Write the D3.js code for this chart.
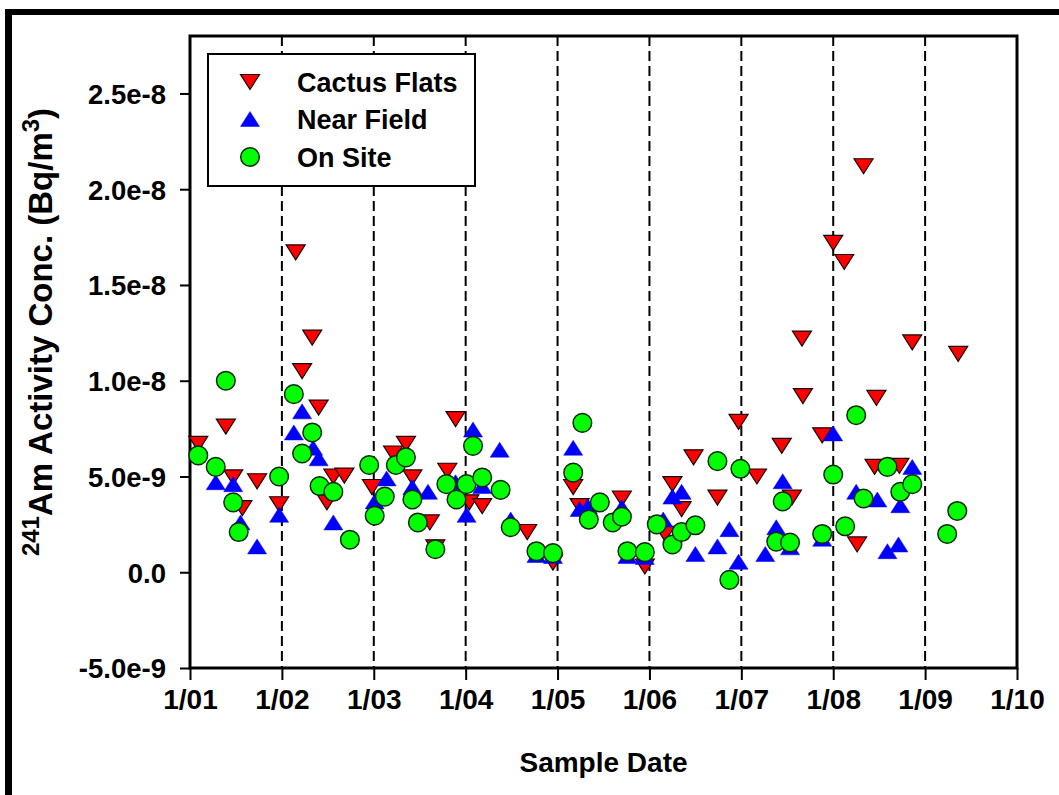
<!DOCTYPE html>
<html>
<head>
<meta charset="utf-8">
<script src="https://cdn.jsdelivr.net/npm/d3@7/dist/d3.min.js"></script>
<style>
  html, body { margin: 0; padding: 0; background: #fff; }
  svg { display: block; }
  text { font-family: "Liberation Sans", Arial, sans-serif; font-weight: bold; fill: #000; }
</style>
</head>
<body>
<svg id="chart" width="1059" height="795"></svg>
<script>
// Sample dates as decimal years, concentrations in Bq/m3
const cactusYear = [2001.09, 2001.39, 2001.47, 2001.57, 2001.73, 2001.97, 2002.15, 2002.22, 2002.33, 2002.40,
  2002.49, 2002.56, 2002.68, 2002.98, 2003.21, 2003.35, 2003.42, 2003.61, 2003.67, 2003.80,
  2003.89, 2004.04, 2004.18, 2004.67, 2004.95, 2005.17, 2005.24, 2005.70, 2005.95, 2006.17,
  2006.25, 2006.35, 2006.48, 2006.74, 2006.97, 2007.17, 2007.44, 2007.55, 2007.66, 2007.67,
  2007.88, 2008.00, 2008.12, 2008.26, 2008.33, 2008.45, 2008.47, 2008.72, 2008.86, 2009.36];
const cactusValue = [6.7e-9, 7.6e-9, 4.95e-9, 3.35e-9, 4.75e-9, 3.55e-9, 1.67e-8, 1.05e-8, 1.225e-8, 8.6e-9,
  3.65e-9, 5.0e-9, 5.05e-9, 4.45e-9, 6.2e-9, 6.7e-9, 4.95e-9, 2.6e-9, 1.3e-9, 5.3e-9,
  8.0e-9, 3.65e-9, 3.45e-9, 2.1e-9, 0.5e-9, 4.45e-9, 3.45e-9, 3.85e-9, 0.3e-9, 2.0e-9,
  4.6e-9, 3.3e-9, 6.0e-9, 3.9e-9, 7.85e-9, 5.0e-9, 6.6e-9, 3.9e-9, 1.22e-8, 9.2e-9,
  7.15e-9, 1.72e-8, 1.62e-8, 1.45e-9, 2.12e-8, 5.5e-9, 9.1e-9, 5.55e-9, 1.2e-8, 1.14e-8];

const nearYear = [2001.28, 2001.47, 2001.55, 2001.73, 2001.97, 2002.13, 2002.22, 2002.34, 2002.40, 2002.56,
  2003.01, 2003.14, 2003.42, 2003.59, 2003.89, 2004.01, 2004.08, 2004.18, 2004.37, 2004.49,
  2004.77, 2004.95, 2005.17, 2005.24, 2005.33, 2005.70, 2005.76, 2005.95, 2006.15, 2006.25,
  2006.35, 2006.50, 2006.74, 2006.87, 2006.97, 2007.26, 2007.38, 2007.45, 2007.53, 2007.88,
  2008.00, 2008.25, 2008.48, 2008.59, 2008.71, 2008.73, 2008.86];
const nearValue = [4.7e-9, 4.6e-9, 2.6e-9, 1.35e-9, 3.0e-9, 7.3e-9, 8.4e-9, 6.5e-9, 5.95e-9, 2.6e-9,
  3.7e-9, 4.9e-9, 4.45e-9, 4.2e-9, 4.7e-9, 3.0e-9, 7.45e-9, 4.5e-9, 6.4e-9, 2.75e-9,
  0.9e-9, 0.85e-9, 6.5e-9, 3.3e-9, 3.45e-9, 3.4e-9, 0.85e-9, 0.8e-9, 2.75e-9, 3.95e-9,
  4.2e-9, 0.95e-9, 1.35e-9, 2.25e-9, 0.55e-9, 0.95e-9, 2.35e-9, 4.75e-9, 1.3e-9, 1.75e-9,
  7.25e-9, 4.2e-9, 3.8e-9, 1.1e-9, 1.45e-9, 3.5e-9, 5.5e-9];

const siteYear = [2001.09, 2001.28, 2001.39, 2001.47, 2001.53, 2001.97, 2002.13, 2002.22, 2002.33, 2002.41,
  2002.56, 2002.74, 2002.95, 2003.01, 2003.12, 2003.24, 2003.35, 2003.42, 2003.48, 2003.67,
  2003.79, 2003.90, 2004.01, 2004.08, 2004.18, 2004.38, 2004.49, 2004.77, 2004.95, 2005.17,
  2005.27, 2005.34, 2005.46, 2005.60, 2005.70, 2005.76, 2005.95, 2006.08, 2006.25, 2006.35,
  2006.50, 2006.74, 2006.87, 2006.99, 2007.38, 2007.45, 2007.53, 2007.88, 2008.00, 2008.13,
  2008.25, 2008.33, 2008.59, 2008.73, 2008.86, 2009.24, 2009.35];
const siteValue = [6.1e-9, 5.5e-9, 1.0e-8, 3.65e-9, 2.1e-9, 5.0e-9, 9.3e-9, 6.2e-9, 7.3e-9, 4.5e-9,
  4.2e-9, 1.7e-9, 5.6e-9, 2.95e-9, 3.95e-9, 5.6e-9, 6.0e-9, 3.8e-9, 2.6e-9, 1.2e-9,
  4.6e-9, 3.8e-9, 4.6e-9, 6.6e-9, 4.95e-9, 4.3e-9, 2.35e-9, 1.1e-9, 1.0e-9, 5.2e-9,
  7.8e-9, 2.75e-9, 3.65e-9, 2.6e-9, 2.9e-9, 1.1e-9, 1.05e-9, 2.5e-9, 1.45e-9, 2.1e-9,
  2.45e-9, 5.8e-9, -0.4e-9, 5.4e-9, 1.6e-9, 3.7e-9, 1.55e-9, 2.0e-9, 5.1e-9, 2.4e-9,
  8.2e-9, 3.85e-9, 5.5e-9, 4.2e-9, 4.6e-9, 2.0e-9, 3.2e-9];

const seriesNames = ["Cactus Flats", "Near Field", "On Site"];
const yTickValues = [-5e-9, 0, 5e-9, 1e-8, 1.5e-8, 2e-8, 2.5e-8];
const yTickLabels = ["-5.0e-9", "0.0", "5.0e-9", "1.0e-8", "1.5e-8", "2.0e-8", "2.5e-8"];
const xTickValues = [2001, 2002, 2003, 2004, 2005, 2006, 2007, 2008, 2009, 2010];
const xTickLabels = ["1/01", "1/02", "1/03", "1/04", "1/05", "1/06", "1/07", "1/08", "1/09", "1/10"];

const svg = d3.select("#chart");
const plot = { left: 190, right: 1017, top: 36, bottom: 668 };

const x = d3.scaleLinear().domain([2001, 2010]).range([plot.left, plot.right]);
const y = d3.scaleLinear().domain([-5e-9, 2.8e-8]).range([plot.bottom, plot.top]);

// page frame (top and left edges)
svg.append("rect").attr("x", 5).attr("y", 9).attr("width", 1054).attr("height", 6).attr("fill", "#000");
svg.append("rect").attr("x", 5).attr("y", 9).attr("width", 7).attr("height", 786).attr("fill", "#000");

// yearly dashed reference lines
svg.append("g").selectAll("line")
  .data(xTickValues.slice(1, -1))
  .join("line")
  .attr("x1", d => x(d)).attr("x2", d => x(d))
  .attr("y1", plot.top).attr("y2", plot.bottom)
  .attr("stroke", "#000").attr("stroke-width", 2)
  .attr("stroke-dasharray", "10,5");

// y axis
const yAxis = d3.axisLeft(y).tickValues(yTickValues)
  .tickFormat((d, i) => yTickLabels[i]).tickSize(10).tickPadding(14);
const gy = svg.append("g").attr("transform", `translate(${plot.left},0)`).call(yAxis);
gy.select(".domain").remove();
gy.selectAll(".tick line").attr("stroke", "#000").attr("stroke-width", 2);
gy.selectAll(".tick text").attr("font-size", 27.5).attr("font-family", "Liberation Sans, Arial, sans-serif")
  .attr("font-weight", "bold").attr("dy", "0.36em");

// x axis
const xAxis = d3.axisBottom(x).tickValues(xTickValues)
  .tickFormat((d, i) => xTickLabels[i]).tickSize(12).tickPadding(9);
const gx = svg.append("g").attr("transform", `translate(0,${plot.bottom})`).call(xAxis);
gx.select(".domain").remove();
gx.selectAll(".tick line").attr("stroke", "#000").attr("stroke-width", 2);
gx.selectAll(".tick text").attr("font-size", 28)
  .attr("font-family", "Liberation Sans Narrow, Arial Narrow, Liberation Sans, sans-serif")
  .attr("font-weight", "bold");

// plot frame
svg.append("rect")
  .attr("x", plot.left).attr("y", plot.top)
  .attr("width", plot.right - plot.left).attr("height", plot.bottom - plot.top)
  .attr("fill", "none").attr("stroke", "#000").attr("stroke-width", 3);

// marker shapes
const triDown = (w, h) => `M${-w / 2},${-h / 2}L${w / 2},${-h / 2}L0,${h / 2}Z`;
const triUp = (w, h) => `M${-w / 2},${h / 2}L${w / 2},${h / 2}L0,${-h / 2}Z`;

const cactus = cactusYear.map((t, i) => ({ t, v: cactusValue[i] }));
const near = nearYear.map((t, i) => ({ t, v: nearValue[i] }));
const site = siteYear.map((t, i) => ({ t, v: siteValue[i] }));

const marks = svg.append("g");
marks.append("g").selectAll("path").data(cactus).join("path")
  .attr("d", triDown(19, 15))
  .attr("transform", d => `translate(${x(d.t)},${y(d.v)})`)
  .attr("fill", "#ff0000").attr("stroke", "#1a0000").attr("stroke-width", 1.2);
marks.append("g").selectAll("path").data(near).join("path")
  .attr("d", triUp(19, 15))
  .attr("transform", d => `translate(${x(d.t)},${y(d.v)})`)
  .attr("fill", "#0000ff").attr("stroke", "#0000ff").attr("stroke-width", 0.5);
marks.append("g").selectAll("circle").data(site).join("circle")
  .attr("cx", d => x(d.t)).attr("cy", d => y(d.v)).attr("r", 9.3)
  .attr("fill", "#00ff00").attr("stroke", "#0a2a0a").attr("stroke-width", 1.5);

// legend
const legend = svg.append("g");
legend.append("rect").attr("x", 208).attr("y", 54).attr("width", 267).attr("height", 132)
  .attr("fill", "#fff").attr("stroke", "#000").attr("stroke-width", 2);
const legendRows = [
  { name: seriesNames[0], cy: 82 },
  { name: seriesNames[1], cy: 119 },
  { name: seriesNames[2], cy: 157 }
];
legend.append("path").attr("d", triDown(19, 15)).attr("transform", `translate(250,${legendRows[0].cy})`)
  .attr("fill", "#ff0000").attr("stroke", "#1a0000").attr("stroke-width", 1.2);
legend.append("path").attr("d", triUp(19, 15)).attr("transform", `translate(250,${legendRows[1].cy})`)
  .attr("fill", "#0000ff").attr("stroke", "#0000ff").attr("stroke-width", 0.5);
legend.append("circle").attr("cx", 250).attr("cy", legendRows[2].cy).attr("r", 9.3)
  .attr("fill", "#00ff00").attr("stroke", "#0a2a0a").attr("stroke-width", 1.5);
legend.selectAll("text.entry").data(legendRows).join("text")
  .attr("class", "entry")
  .attr("x", 297).attr("y", d => d.cy).attr("dy", "0.36em")
  .attr("font-size", 27)
  .text(d => d.name);

// axis titles
svg.append("text")
  .attr("x", (plot.left + plot.right) / 2).attr("y", 772)
  .attr("text-anchor", "middle").attr("font-size", 28)
  .text("Sample Date");

const yTitle = svg.append("text")
  .attr("transform", "translate(52,332) rotate(-90)")
  .attr("text-anchor", "middle").attr("font-size", 33);
yTitle.append("tspan").attr("font-size", 24).attr("dy", -13).text("241");
yTitle.append("tspan").attr("dy", 13).text("Am Activity Conc. (Bq/m");
yTitle.append("tspan").attr("font-size", 24).attr("dy", -13).text("3");
yTitle.append("tspan").attr("dy", 13).text(")");
</script>
</body>
</html>
